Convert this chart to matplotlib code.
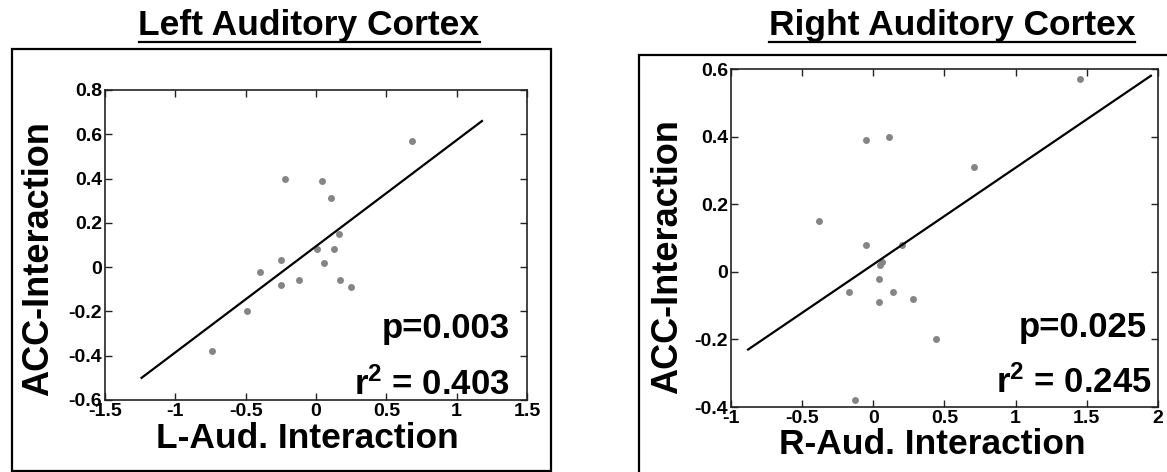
import numpy as np
import matplotlib
matplotlib.use("Agg")
import matplotlib.pyplot as plt
from matplotlib.patches import Rectangle
from matplotlib.lines import Line2D

plt.rcParams['font.family'] = ['Liberation Sans', 'DejaVu Sans']
plt.rcParams['font.weight'] = 'bold'
plt.rcParams['mathtext.fontset'] = 'custom'
plt.rcParams['mathtext.rm'] = 'Liberation Sans:bold'
plt.rcParams['mathtext.bf'] = 'Liberation Sans:bold'
plt.rcParams['mathtext.it'] = 'Liberation Sans:bold'

# left auditory cortex
left_x = [0.68, -0.22, 0.04, 0.11, 0.16, 0.01, 0.13, -0.25,
          0.06, -0.40, -0.12, 0.17, -0.25, 0.25, -0.49, -0.74]
left_y = [0.57, 0.40, 0.39, 0.31, 0.15, 0.08, 0.08, 0.03,
          0.02, -0.02, -0.06, -0.06, -0.08, -0.09, -0.20, -0.38]
left_fit_x = [-1.24, 1.18]
left_fit_y = [-0.50, 0.66]
left_xticks = [-1.5, -1, -0.5, 0, 0.5, 1, 1.5]
left_yticks = [-0.6, -0.4, -0.2, 0, 0.2, 0.4, 0.6, 0.8]

# right auditory cortex
right_x = [1.45, -0.05, 0.11, 0.71, -0.38, -0.05, 0.20, 0.06,
           0.05, 0.04, -0.17, 0.14, 0.04, 0.28, 0.44, -0.13]
right_y = [0.57, 0.39, 0.40, 0.31, 0.15, 0.08, 0.08, 0.03,
           0.02, -0.02, -0.06, -0.06, -0.09, -0.08, -0.20, -0.38]
right_fit_x = [-0.88, 1.95]
right_fit_y = [-0.23, 0.58]
right_xticks = [-1, -0.5, 0, 0.5, 1, 1.5, 2]
right_yticks = [-0.4, -0.2, 0, 0.2, 0.4, 0.6]

W, H = 1167, 472
fig = plt.figure(figsize=(W / 100, H / 100), dpi=100)

def px(x0, y0, x1, y1):
    # pixel box -> figure fraction rect
    return [x0 / W, 1 - y1 / H, (x1 - x0) / W, (y1 - y0) / H]

def tick_fmt(v):
    if v == 0:
        return '0'
    return ('%g' % v)

def panel(rect, xs, ys, fx, fy, xt, yt, ptxt, rtxt, ppos, rpos):
    ax = fig.add_axes(rect)
    ax.plot(xs, ys, 'o', color='#858585', markersize=5, markeredgewidth=0)
    ax.plot(fx, fy, color='black', lw=1.6)
    ax.set_xlim(xt[0], xt[-1])
    ax.set_ylim(yt[0], yt[-1])
    ax.set_xticks(xt)
    ax.set_yticks(yt)
    ax.set_xticklabels([tick_fmt(v) for v in xt])
    ax.set_yticklabels([tick_fmt(v) for v in yt])
    ax.tick_params(direction='in', top=True, right=True, length=5, width=1,
                   labelsize=14, pad=2, color='#222222')
    for s in ax.spines.values():
        s.set_linewidth(1.2)
        s.set_color('#222222')
    ax.text(ppos[0], ppos[1], ptxt, transform=ax.transAxes, ha='right',
            va='baseline', fontsize=25, fontweight='bold')
    ax.text(rpos[0], rpos[1], rtxt, transform=ax.transAxes, ha='right',
            va='baseline', fontsize=25, fontweight='bold')
    return ax

axl = panel(px(105, 90, 527, 400), left_x, left_y, left_fit_x, left_fit_y,
            left_xticks, left_yticks, 'p=0.003', 'r$^2$ = 0.403',
            (0.96, 0.2), (0.96, 0.016))
axr = panel(px(731, 69, 1158, 407), right_x, right_y, right_fit_x, right_fit_y,
            right_xticks, right_yticks, 'p=0.025', 'r$^2$ = 0.245',
            (0.974, 0.206), (0.985, 0.041))

# axis labels
fig.text(38.5 / W, 1 - 259 / H, 'ACC-Interaction', rotation=90, ha='center',
         va='center', fontsize=26, fontweight='bold')
fig.text(667.5 / W, 1 - 256.5 / H, 'ACC-Interaction', rotation=90, ha='center',
         va='center', fontsize=26, fontweight='bold')
fig.text(307 / W, 1 - 448 / H, 'L-Aud. Interaction', ha='center',
         va='baseline', fontsize=25.5, fontweight='bold')
fig.text(932 / W, 1 - 454 / H, 'R-Aud. Interaction', ha='center',
         va='baseline', fontsize=25.5, fontweight='bold')

# titles with underline
titles = []
titles.append(fig.text(309 / W, 1 - 35 / H, 'Left Auditory Cortex', ha='center',
                       va='baseline', fontsize=25.5, fontweight='bold'))
titles.append(fig.text(952 / W, 1 - 35 / H, 'Right Auditory Cortex', ha='center',
                       va='baseline', fontsize=25.5, fontweight='bold'))
fig.canvas.draw()
r = fig.canvas.get_renderer()
for t in titles:
    bb = t.get_window_extent(r)
    yl = 1 - 41.5 / H
    fig.add_artist(Line2D([bb.x0 / W, bb.x1 / W], [yl, yl], color='black',
                          lw=1.6, transform=fig.transFigure))

# outer boxes around each panel
fig.add_artist(Rectangle((11.7 / W, 1 - 470.5 / H), (551 - 11.7) / W,
                         (470.5 - 49.3) / H, fill=False, lw=1.6,
                         edgecolor='black', transform=fig.transFigure))
fig.add_artist(Rectangle((639 / W, -0.05), 0.5, 1 - 55 / H + 0.05, fill=False,
                         lw=1.6, edgecolor='black', transform=fig.transFigure,
                         clip_on=False))

fig.savefig('out.png', dpi=100)
